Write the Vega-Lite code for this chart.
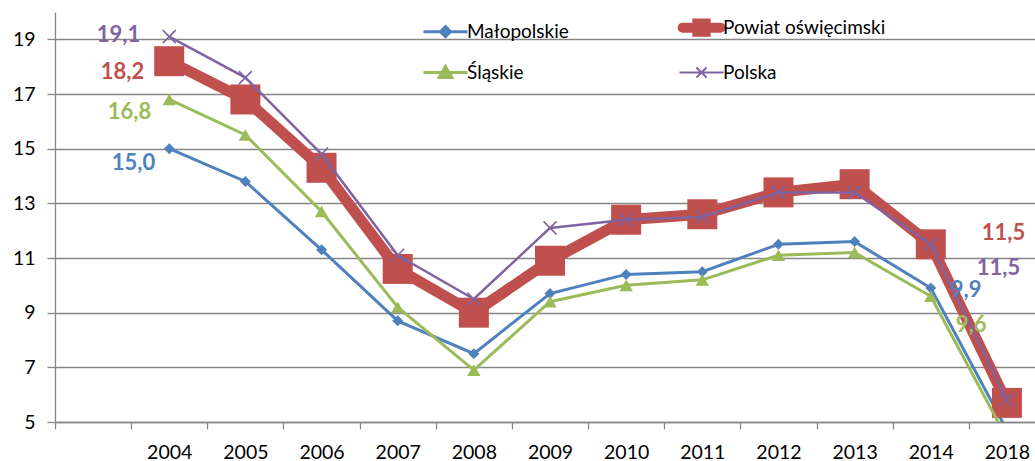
{
  "$schema": "https://vega.github.io/schema/vega-lite/v6.json",
  "width": 980,
  "height": 410,
  "autosize": {"type": "none"},
  "padding": {"left": 55, "top": 12, "right": 0, "bottom": 39},
  "background": "white",
  "config": {
    "view": {"stroke": null},
    "font": "Lato",
    "locale": {"number": {"decimal": ",", "thousands": " ", "grouping": [3], "currency": ["", " zł"]}}
  },
  "data": {
    "values": [
      {"year": "2004", "series": "Małopolskie", "value": 15.0},
      {"year": "2005", "series": "Małopolskie", "value": 13.8},
      {"year": "2006", "series": "Małopolskie", "value": 11.3},
      {"year": "2007", "series": "Małopolskie", "value": 8.7},
      {"year": "2008", "series": "Małopolskie", "value": 7.5},
      {"year": "2009", "series": "Małopolskie", "value": 9.7},
      {"year": "2010", "series": "Małopolskie", "value": 10.4},
      {"year": "2011", "series": "Małopolskie", "value": 10.5},
      {"year": "2012", "series": "Małopolskie", "value": 11.5},
      {"year": "2013", "series": "Małopolskie", "value": 11.6},
      {"year": "2014", "series": "Małopolskie", "value": 9.9},
      {"year": "2018", "series": "Małopolskie", "value": 4.7},
      {"year": "2004", "series": "Powiat oświęcimski", "value": 18.2},
      {"year": "2005", "series": "Powiat oświęcimski", "value": 16.8},
      {"year": "2006", "series": "Powiat oświęcimski", "value": 14.3},
      {"year": "2007", "series": "Powiat oświęcimski", "value": 10.6},
      {"year": "2008", "series": "Powiat oświęcimski", "value": 9.0},
      {"year": "2009", "series": "Powiat oświęcimski", "value": 10.9},
      {"year": "2010", "series": "Powiat oświęcimski", "value": 12.4},
      {"year": "2011", "series": "Powiat oświęcimski", "value": 12.6},
      {"year": "2012", "series": "Powiat oświęcimski", "value": 13.4},
      {"year": "2013", "series": "Powiat oświęcimski", "value": 13.7},
      {"year": "2014", "series": "Powiat oświęcimski", "value": 11.5},
      {"year": "2018", "series": "Powiat oświęcimski", "value": 5.7},
      {"year": "2004", "series": "Śląskie", "value": 16.8},
      {"year": "2005", "series": "Śląskie", "value": 15.5},
      {"year": "2006", "series": "Śląskie", "value": 12.7},
      {"year": "2007", "series": "Śląskie", "value": 9.2},
      {"year": "2008", "series": "Śląskie", "value": 6.9},
      {"year": "2009", "series": "Śląskie", "value": 9.4},
      {"year": "2010", "series": "Śląskie", "value": 10.0},
      {"year": "2011", "series": "Śląskie", "value": 10.2},
      {"year": "2012", "series": "Śląskie", "value": 11.1},
      {"year": "2013", "series": "Śląskie", "value": 11.2},
      {"year": "2014", "series": "Śląskie", "value": 9.6},
      {"year": "2018", "series": "Śląskie", "value": 4.4},
      {"year": "2004", "series": "Polska", "value": 19.1},
      {"year": "2005", "series": "Polska", "value": 17.6},
      {"year": "2006", "series": "Polska", "value": 14.8},
      {"year": "2007", "series": "Polska", "value": 11.1},
      {"year": "2008", "series": "Polska", "value": 9.5},
      {"year": "2009", "series": "Polska", "value": 12.1},
      {"year": "2010", "series": "Polska", "value": 12.4},
      {"year": "2011", "series": "Polska", "value": 12.5},
      {"year": "2012", "series": "Polska", "value": 13.4},
      {"year": "2013", "series": "Polska", "value": 13.4},
      {"year": "2014", "series": "Polska", "value": 11.5},
      {"year": "2018", "series": "Polska", "value": 5.8}
    ]
  },
  "encoding": {
    "x": {
      "field": "year",
      "type": "ordinal",
      "scale": {"type": "point", "domain": [" ", "2004", "2005", "2006", "2007", "2008", "2009", "2010", "2011", "2012", "2013", "2014", "2018"], "range": [0, 990], "padding": 0.5},
      "axis": {"title": null, "grid": false, "labelAngle": 0, "domainColor": "#868686", "domainWidth": 1.3, "tickColor": "#868686", "tickWidth": 1.3, "tickSize": 7, "tickOffset": -38.08, "labelOffset": 38.08, "labelFontSize": 19.5, "labelColor": "black", "labelPadding": 14, "labelFont": "Lato"}
    },
    "y": {
      "field": "value",
      "type": "quantitative",
      "scale": {"domain": [5, 20], "nice": false, "zero": false},
      "axis": {"title": null, "values": [5, 7, 9, 11, 13, 15, 17, 19], "grid": true, "gridColor": "#868686", "gridWidth": 1.3, "domainColor": "#868686", "domainWidth": 1.3, "tickColor": "#868686", "tickWidth": 1.3, "tickSize": 8, "labelFontSize": 19.5, "labelColor": "black", "labelPadding": 12, "labelFont": "Lato"}
    }
  },
  "layer": [
    {
      "transform": [{"filter": "datum.series === 'Małopolskie'"}],
      "mark": {"type": "line", "strokeWidth": 3, "clip": true},
      "encoding": {
        "color": {
          "field": "series",
          "type": "nominal",
          "scale": {"domain": ["Małopolskie", "Śląskie", "Powiat oświęcimski", "Polska"], "range": ["#4F81BD", "#9BBB59", "#C0504D", "#8064A2"]},
          "legend": {
            "orient": "none", "legendX": 381, "legendY": 6, "title": null, "columns": 2, "columnPadding": 32, "rowPadding": 8, "padding": 0, "gridAlign": "all",
            "symbolSize": 1764, "labelFontSize": 19, "labelColor": "black", "labelFont": "Lato", "labelOffset": 12, "labelLimit": 400,
            "encode": {
              "labels": {
                "update": {
                  "dy": {"signal": "datum.value === 'Małopolskie' ? -5 : 0"}
                }
              },
              "symbols": {
                "update": {
                  "shape": {"signal": "datum.value === 'Małopolskie' ? 'M-1.05,-0.24H1.05M0,-0.48L0.24,-0.24L0,0L-0.24,-0.24Z' : datum.value === 'Powiat oświęcimski' ? 'M-0.9,0H0.9M-0.2,-0.2H0.2V0.2H-0.2Z' : datum.value === 'Śląskie' ? 'M-1.05,0H1.05M0,-0.28L0.3,0.24H-0.3Z' : 'M-1.05,0H1.05M-0.24,-0.24L0.24,0.24M-0.24,0.24L0.24,-0.24'"},
                  "strokeWidth": {"signal": "datum.value === 'Powiat oświęcimski' ? 10 : datum.value === 'Polska' ? 2 : 3"},
                  "stroke": {"signal": "datum.value === 'Małopolskie' ? '#4F81BD' : datum.value === 'Powiat oświęcimski' ? '#C0504D' : datum.value === 'Śląskie' ? '#9BBB59' : '#8064A2'"},
                  "fill": {"signal": "datum.value === 'Małopolskie' ? '#4F81BD' : datum.value === 'Powiat oświęcimski' ? '#C0504D' : datum.value === 'Śląskie' ? '#9BBB59' : 'transparent'"},
                  "strokeCap": {"signal": "datum.value === 'Powiat oświęcimski' ? 'round' : 'butt'"},
                  "opacity": {"value": 1}
                }
              }
            }
          }
        }
      }
    },
    {
      "transform": [{"filter": "datum.series === 'Małopolskie'"}],
      "mark": {"type": "point", "shape": "diamond", "filled": true, "size": 121, "color": "#4F81BD", "opacity": 1, "clip": true}
    },
    {
      "transform": [{"filter": "datum.series === 'Powiat oświęcimski'"}],
      "mark": {"type": "line", "strokeWidth": 11, "clip": true},
      "encoding": {"color": {"field": "series", "type": "nominal"}}
    },
    {
      "transform": [{"filter": "datum.series === 'Powiat oświęcimski'"}],
      "mark": {"type": "point", "shape": "square", "filled": true, "size": 900, "color": "#C0504D", "opacity": 1, "clip": true}
    },
    {
      "transform": [{"filter": "datum.series === 'Śląskie'"}],
      "mark": {"type": "line", "strokeWidth": 3, "clip": true},
      "encoding": {"color": {"field": "series", "type": "nominal"}}
    },
    {
      "transform": [{"filter": "datum.series === 'Śląskie'"}],
      "mark": {"type": "point", "shape": "triangle-up", "filled": true, "size": 180, "color": "#9BBB59", "opacity": 1, "clip": true}
    },
    {
      "transform": [{"filter": "datum.series === 'Polska'"}],
      "mark": {"type": "line", "strokeWidth": 2.5, "clip": true},
      "encoding": {"color": {"field": "series", "type": "nominal"}}
    },
    {
      "transform": [{"filter": "datum.series === 'Polska'"}],
      "mark": {"type": "point", "shape": "M-1,-1L1,1M-1,1L1,-1", "filled": false, "size": 169, "strokeWidth": 1.6, "color": "#8064A2", "opacity": 1, "clip": true}
    },
    {
      "transform": [{"filter": "datum.series === 'Polska' && datum.year === '2004'"}],
      "mark": {"type": "text", "align": "right", "baseline": "middle", "dx": -29, "dy": -2, "fontSize": 22, "fontWeight": "bold", "color": "#8064A2"},
      "encoding": {"text": {"field": "value", "type": "quantitative", "format": ".1f"}}
    },
    {
      "transform": [{"filter": "datum.series === 'Powiat oświęcimski' && datum.year === '2004'"}],
      "mark": {"type": "text", "align": "right", "baseline": "middle", "dx": -25, "dy": 11, "fontSize": 22, "fontWeight": "bold", "color": "#C0504D"},
      "encoding": {"text": {"field": "value", "type": "quantitative", "format": ".1f"}}
    },
    {
      "transform": [{"filter": "datum.series === 'Śląskie' && datum.year === '2004'"}],
      "mark": {"type": "text", "align": "right", "baseline": "middle", "dx": -18, "dy": 12.5, "fontSize": 22, "fontWeight": "bold", "color": "#9BBB59"},
      "encoding": {"text": {"field": "value", "type": "quantitative", "format": ".1f"}}
    },
    {
      "transform": [{"filter": "datum.series === 'Małopolskie' && datum.year === '2004'"}],
      "mark": {"type": "text", "align": "right", "baseline": "middle", "dx": -14, "dy": 14, "fontSize": 22, "fontWeight": "bold", "color": "#4F81BD"},
      "encoding": {"text": {"field": "value", "type": "quantitative", "format": ".1f"}}
    },
    {
      "transform": [{"filter": "datum.series === 'Powiat oświęcimski' && datum.year === '2014'"}],
      "mark": {"type": "text", "align": "left", "baseline": "middle", "dx": 51, "dy": -11, "fontSize": 22, "fontWeight": "bold", "color": "#C0504D"},
      "encoding": {"text": {"field": "value", "type": "quantitative", "format": ".1f"}}
    },
    {
      "transform": [{"filter": "datum.series === 'Polska' && datum.year === '2014'"}],
      "mark": {"type": "text", "align": "left", "baseline": "middle", "dx": 46, "dy": 24, "fontSize": 22, "fontWeight": "bold", "color": "#8064A2"},
      "encoding": {"text": {"field": "value", "type": "quantitative", "format": ".1f"}}
    },
    {
      "transform": [{"filter": "datum.series === 'Małopolskie' && datum.year === '2014'"}],
      "mark": {"type": "text", "align": "left", "baseline": "middle", "dx": 20, "dy": 2, "fontSize": 22, "fontWeight": "bold", "color": "#4F81BD"},
      "encoding": {"text": {"field": "value", "type": "quantitative", "format": ".1f"}}
    },
    {
      "transform": [{"filter": "datum.series === 'Śląskie' && datum.year === '2014'"}],
      "mark": {"type": "text", "align": "left", "baseline": "middle", "dx": 25, "dy": 29, "fontSize": 22, "fontWeight": "bold", "color": "#9BBB59"},
      "encoding": {"text": {"field": "value", "type": "quantitative", "format": ".1f"}}
    }
  ]
}
